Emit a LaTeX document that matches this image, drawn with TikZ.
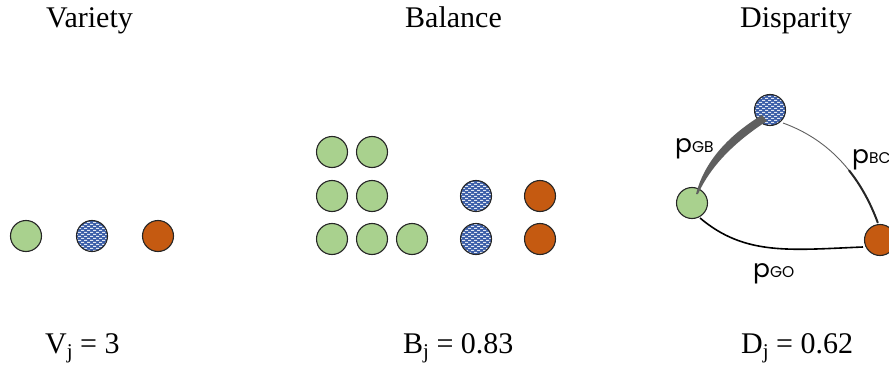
\documentclass[tikz,border=0pt]{standalone}
\usepackage{fontspec}
\setmainfont{Liberation Serif}
\newfontfamily\gothic{Poppins}
\usetikzlibrary{patterns,calc}
\pgfdeclarepatternformonly{bluedash}{\pgfqpoint{-1pt}{-1pt}}{\pgfqpoint{7pt}{5pt}}{\pgfqpoint{6pt}{4pt}}{%
  \pgfpathrectangle{\pgfqpoint{0pt}{0pt}}{\pgfqpoint{3pt}{1.1pt}}%
  \pgfpathrectangle{\pgfqpoint{3pt}{2pt}}{\pgfqpoint{3pt}{1.1pt}}%
  \pgfusepath{fill}}
\definecolor{cgreen}{HTML}{A9D18E}
\definecolor{corange}{HTML}{C55A11}
\definecolor{cblue}{HTML}{3A5DA8}
\definecolor{cgray}{HTML}{5F5F5F}
\tikzset{
  ball/.style={circle, draw=black!85, line width=1.1pt, minimum size=31pt, inner sep=0pt},
  gball/.style={ball, fill=cgreen},
  oball/.style={ball, fill=corange},
  bball/.style={ball, preaction={fill=cblue}, pattern=bluedash, pattern color=white!85!cblue},
  title/.style={anchor=base west, inner sep=0pt, font=\fontsize{30}{30}\selectfont},
  plab/.style={anchor=base west, inner sep=0pt, font=\gothic\fontsize{25}{25}\selectfont},
}
\newcommand{\subj}{\raisebox{-5pt}{\fontsize{21}{21}\selectfont j}}
\newcommand{\smc}[1]{{\fontsize{15.5}{15.5}\selectfont #1}}
\begin{document}
\begin{tikzpicture}[x=1pt,y=-1pt]
\useasboundingbox (0,0) rectangle (889,369);
\clip (0,0) rectangle (889,369);
% titles
\node[title] (t1) at (46,28) {Variety};
\node[title] (t2) at (405,28) {Balance};
\node[title] (t3) at (740,28) {Disparity};
% values
\node[title] (v1) at (45,353) {V\subj{} = 3};
\node[title] (v2) at (403,353) {B\subj{} = 0.83};
\node[title] (v3) at (741,353) {D\subj{} = 0.62};
% variety
\node[gball] (vg) at (26,236) {};
\node[bball] (vb) at (92,236) {};
\node[oball] (vo) at (158,236) {};
% balance
\node[gball] (g1) at (332,152) {};
\node[gball] (g2) at (372,152) {};
\node[gball] (g3) at (332,196) {};
\node[gball] (g4) at (372,196) {};
\node[gball] (g5) at (332,239) {};
\node[gball] (g6) at (372,239) {};
\node[gball] (g7) at (412,239) {};
\node[bball] (b1) at (476,196) {};
\node[bball] (b2) at (476,239) {};
\node[oball] (o1) at (540,196) {};
\node[oball] (o2) at (540,239) {};
% disparity
\node[bball] (B) at (770,110) {};
\node[gball] (G) at (692,203) {};
\node[oball] (O) at (880,240) {};
% G-B tapered stroke
\fill[cgray] ($(G.center)+(4,-9)$) .. controls ($(G.center)+(12,-39.7)$) and ($(G.center)+(34,-66)$) .. ($(B.center)+(-8,5)$)
   -- ($(B.center)+(-3,11)$) .. controls ($(G.center)+(41,-60)$) and ($(G.center)+(18,-35.7)$) .. ($(G.center)+(6,-9)$) -- cycle;
% B-O
\draw[cgray, line width=0.9pt] ($(B.center)+(13,13)$) .. controls ($(B.center)+(57.3,29)$) and ($(B.center)+(89,62.3)$) .. ($(O.center)+(-2,-17)$);
\draw[black!85, line width=2pt, line cap=round] ($(B.center)+(79.1,60.5)$) .. controls ($(B.center)+(90.8,75.2)$) and ($(B.center)+(100.4,92.7)$) .. ($(O.center)+(-2.3,-17.5)$);
% G-O
\draw[black, line width=1.6pt] ($(G.center)+(8,15)$) .. controls ($(G.center)+(53,53)$) and ($(G.center)+(98,47)$) .. ($(O.center)+(-17,7)$);
% labels
\node[plab] (lgb) at (675,152) {p\smc{GB}};
\node[plab] (lbc) at (852,163) {p\smc{BC}};
\node[plab] (lgo) at (753,277) {p\smc{GO}};
\end{tikzpicture}
\end{document}
